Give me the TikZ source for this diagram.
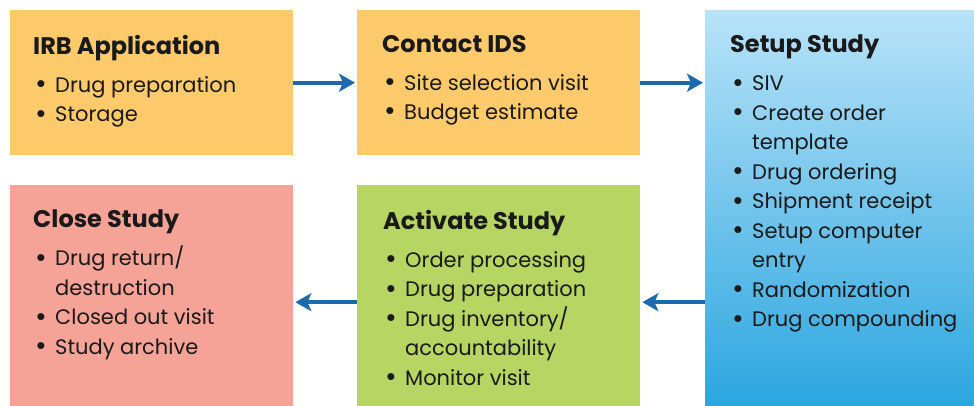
\documentclass[tikz,border=0pt]{standalone}
\usepackage{fontspec}
\usepackage{graphicx}
\setmainfont{Poppins}
\usetikzlibrary{arrows.meta,calc}
\definecolor{orangebox}{HTML}{FDCA6B}
\definecolor{pinkbox}{HTML}{F5A397}
\definecolor{greenbox}{HTML}{B6D562}
\definecolor{bluetop}{HTML}{B8E3F8}
\definecolor{bluebot}{HTML}{2CA6DF}
\definecolor{arrowblue}{HTML}{1C6AAE}
\definecolor{textdark}{HTML}{1A1A1A}
\newcommand{\myitem}[1]{\hspace*{2pt}\makebox[20pt][l]{\raisebox{-1.2pt}{\scalebox{1.35}{\textbullet}}}#1}
\newcommand{\mycont}[1]{\hspace*{22pt}#1}
\newcommand{\mytitle}[1]{{\fontsize{24}{29.5}\selectfont\bfseries #1}\\[8.5pt]}
\begin{document}
\begin{tikzpicture}[x=1pt,y=-1pt,
  box/.style={rectangle, draw=none, inner sep=0pt, anchor=north west},
  txt/.style={anchor=north west, inner sep=0pt, align=left,
    font=\fontsize{21}{29.5}\selectfont, text=textdark},
  flow/.style={draw=arrowblue, line width=4pt,
    -{Stealth[length=16pt,width=18pt,inset=4pt]}, shorten >=2pt}]
\useasboundingbox (0,0) rectangle (974,406);
% boxes
\node[box, fill=orangebox, minimum width=283pt, minimum height=145pt] (irb) at (10,10) {};
\node[box, fill=orangebox, minimum width=283pt, minimum height=145pt] (contact) at (357,10) {};
\node[box, top color=bluetop, bottom color=bluebot, minimum width=269pt, minimum height=396pt] (setup) at (705,10) {};
\node[box, fill=pinkbox, minimum width=283pt, minimum height=221pt] (close) at (10,185) {};
\node[box, fill=greenbox, minimum width=283pt, minimum height=221pt] (activate) at (357,185) {};
% texts
\node[txt] (irbt) at ($(irb.north west)+(23,25)$) {\mytitle{IRB Application}
\myitem{Drug preparation}\\
\myitem{Storage}};
\node[txt] (contactt) at ($(contact.north west)+(25,25)$) {\mytitle{Contact IDS}
\myitem{Site selection visit}\\
\myitem{Budget estimate}};
\node[txt] (setupt) at ($(setup.north west)+(25,25)$) {\mytitle{Setup Study}
\myitem{SIV}\\
\myitem{Create order}\\
\mycont{template}\\
\myitem{Drug ordering}\\
\myitem{Shipment receipt}\\
\myitem{Setup computer}\\
\mycont{entry}\\
\myitem{Randomization}\\
\myitem{Drug compounding}};
\node[txt] (closet) at ($(close.north west)+(23,25)$) {\mytitle{Close Study}
\myitem{Drug return/}\\
\mycont{destruction}\\
\myitem{Closed out visit}\\
\myitem{Study archive}};
\node[txt] (activatet) at ($(activate.north west)+(26,25)$) {\mytitle{Activate Study}
\myitem{Order processing}\\
\myitem{Drug preparation}\\
\myitem{Drug inventory/}\\
\mycont{accountability}\\
\myitem{Monitor visit}};
% connectors
\draw[flow] (irb.east) -- (contact.west);
\draw[flow] (contact.east) -- (contact.east -| setup.west);
\draw[flow] ([yshift=-6.5pt]activate.east -| setup.west) -- ([yshift=-6.5pt]activate.east);
\draw[flow] ([yshift=-6.5pt]activate.west) -- ([yshift=-6.5pt]close.east);
\end{tikzpicture}
\end{document}
